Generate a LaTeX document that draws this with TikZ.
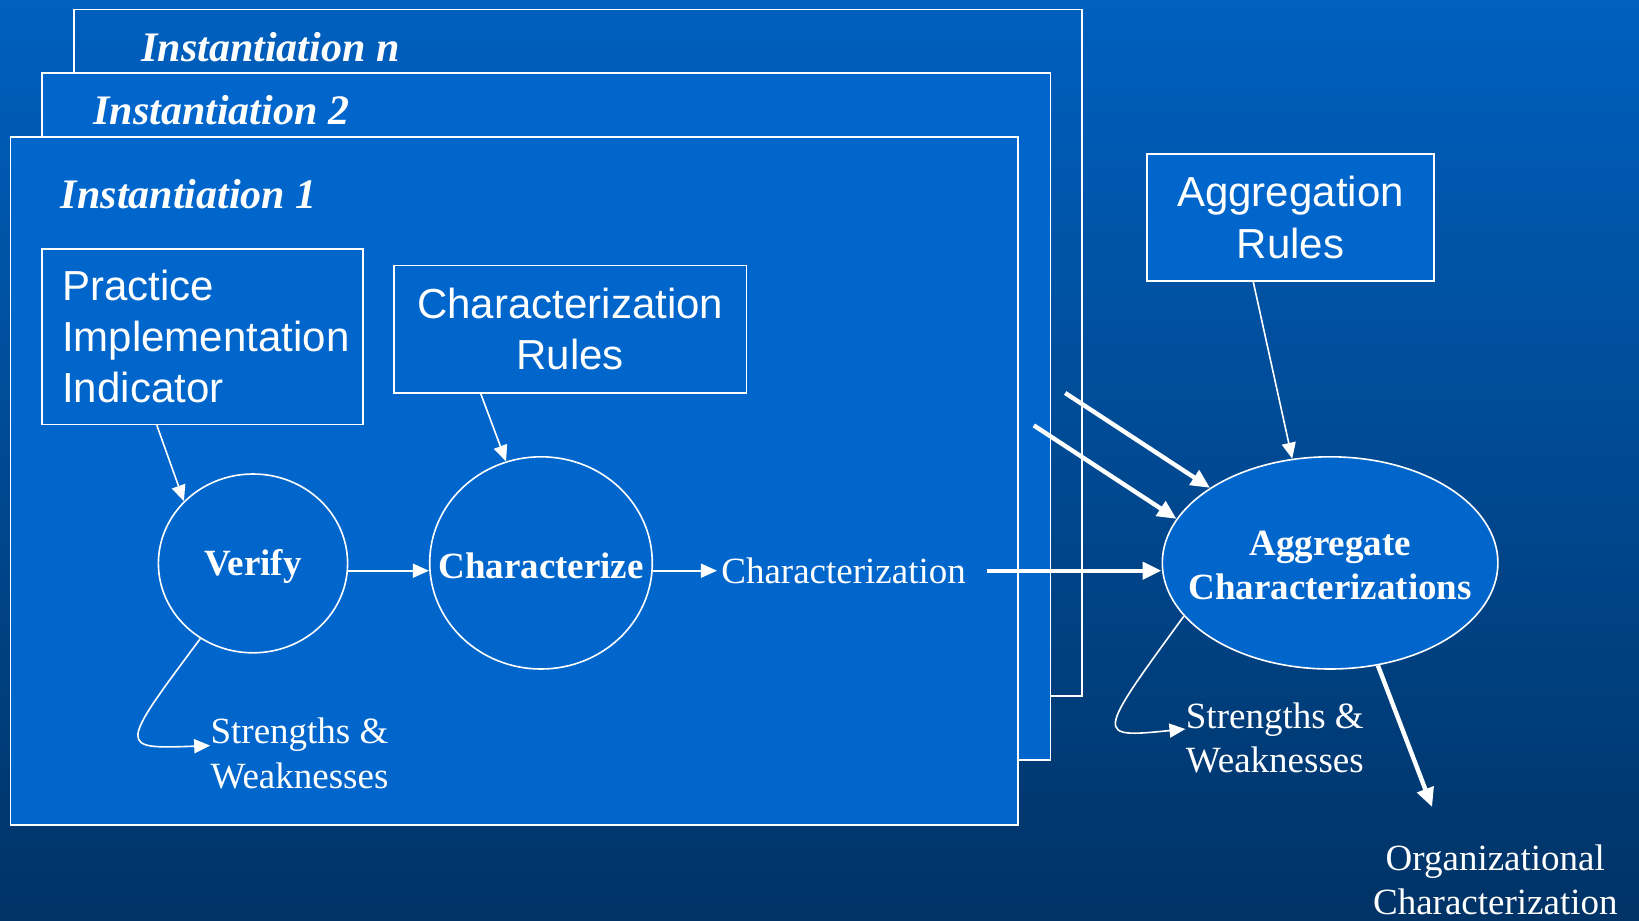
\documentclass[tikz,border=0pt]{standalone}
\usepackage{fontspec}
\setmainfont{Liberation Serif}
\setsansfont{Liberation Sans}
\usetikzlibrary{arrows.meta,positioning,shapes.geometric}
\definecolor{bgtop}{RGB}{0,96,191}
\definecolor{bgbot}{RGB}{0,51,102}
\definecolor{boxblue}{RGB}{0,102,204}

\begin{document}
\begin{tikzpicture}[
  x=0.5pt, y=-0.5pt,
  frame/.style={draw=white,line width=0.8pt},
  title/.style={anchor=west,inner sep=0pt,text=white,font=\fontsize{21}{25}\selectfont\bfseries\itshape},
  rulebox/.style={rectangle,draw=white,fill=boxblue,line width=0.8pt,text=white,align=center,inner sep=0pt,font=\sffamily\fontsize{21}{25.6}\selectfont},
  act/.style={ellipse,draw=white,fill=boxblue,line width=0.8pt,inner sep=0pt},
  acttxt/.style={text=white,align=center,inner sep=0pt,yshift=-1.5pt,font=\fontsize{18.5}{22}\selectfont\bfseries},
  lbl/.style={text=white,align=center,inner sep=0pt,font=\fontsize{18.5}{22.2}\selectfont},
  arrow/.style={draw=white,line width=0.8pt,-{Triangle[length=8pt,width=7pt]}},
  bigarrow/.style={draw=white,line width=2.2pt,-{Triangle[length=9.5pt,width=8.5pt]}}
]
\shade[top color=bgtop,bottom color=bgbot] (0,0) rectangle (1639,921);
\useasboundingbox (0,0) rectangle (1639,921);

\draw[frame] (74.2,9.4) rectangle (1081.9,696.2);
\draw[frame,fill=boxblue] (41.8,73.2) rectangle (1050.5,760);
\draw[frame,fill=boxblue] (10.5,136.9) rectangle (1018.1,824.7);

\node[title] (tn) at (141,47) {Instantiation n};
\node[title] (t2) at (93,110) {Instantiation 2};
\node[title] (t1) at (60.6,194.4) {Instantiation 1};

\node[rulebox,minimum width=160.5pt,minimum height=87.8pt,text width=140pt,align=left] (pii) at (202.3,336.6) {Practice\\Implementation\\Indicator};
\node[rulebox,minimum width=176.1pt,minimum height=63.75pt] (crules) at (570.2,329.3) {Characterization\\Rules};
\node[rulebox,minimum width=143.75pt,minimum height=63.75pt] (arules) at (1290.5,217.5) {Aggregation\\Rules};

\node[act,minimum width=94.6pt,minimum height=89.4pt,label={[acttxt]center:Verify}] (verify) at (253,563.4) {};
\node[act,minimum width=111.3pt,minimum height=106.1pt,label={[acttxt]center:Characterize}] (charz) at (541,562.9) {};
\node[act,minimum width=167.8pt,minimum height=106.1pt,label={[acttxt]center:Aggregate\\Characterizations}] (aggr) at (1330.1,562.9) {};

\node[lbl] (charout) at (843.6,570.7) {Characterization};
\node[lbl] (sw1) at (299.5,753.6) {Strengths \&\\Weaknesses};
\node[lbl] (sw2) at (1274.8,738) {Strengths \&\\Weaknesses};
\node[lbl] (org) at (1495.3,880) {Organizational\\Characterization};

\coordinate (out2) at (1033.8,425.4);
\coordinate (outn) at (1065.2,393);
\coordinate (orgtip) at (1432.1,807);

\draw[arrow] ([xshift=-22.75pt]pii.south) -- (verify.138);
\draw[arrow] ([xshift=-44.7pt]crules.south) -- (charz.109);
\draw[arrow] (verify.east |- charout.west) -- (charz.west |- charout.west);
\draw[arrow,shorten >=2pt] (charz.east |- charout.west) -- (charout.west);
\draw[arrow] (verify.235) .. controls (118,749) .. ([yshift=4pt]sw1.west);
\draw[bigarrow] ([xshift=10.5pt]charout.east) -- (aggr.west |- charout.east);
\draw[bigarrow] (out2) -- (aggr.164);
\draw[bigarrow] (outn) -- (aggr.148);
\draw[arrow] ([xshift=-18.6pt]arules.south) -- (aggr.110);
\draw[arrow] (aggr.200) .. controls (1095,738) .. ([yshift=4.5pt]sw2.west);
\draw[bigarrow] (aggr.-65) -- (orgtip);
\end{tikzpicture}
\end{document}
